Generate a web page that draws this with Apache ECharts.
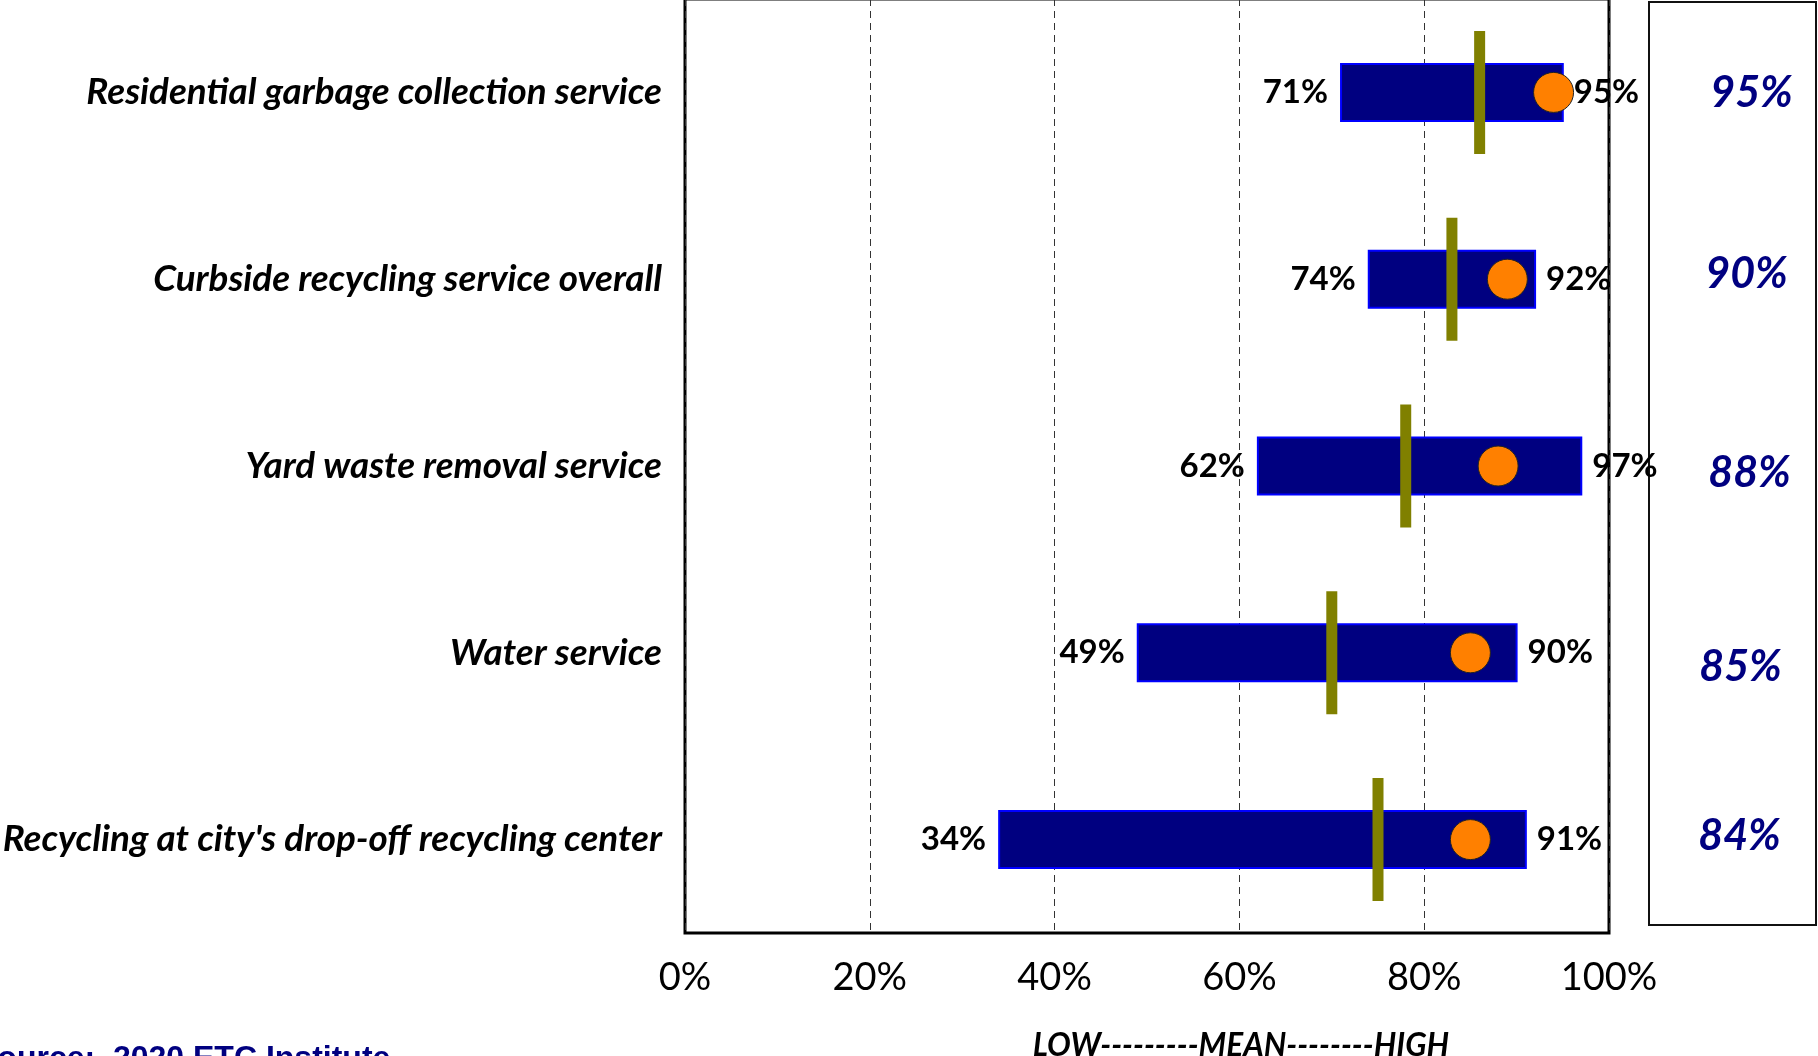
<!DOCTYPE html>
<html>
<head>
<meta charset="utf-8">
<script src="https://cdn.jsdelivr.net/npm/echarts@6/dist/echarts.min.js"></script>
<style>
html,body{margin:0;padding:0;background:#fff;}
#chart{width:1818px;height:1056px;}
</style>
</head>
<body>
<div id="chart"></div>
<script>
const categories = [
  "Residential garbage collection service",
  "Curbside recycling service overall",
  "Yard waste removal service",
  "Water service",
  "Recycling at city's drop-off recycling center"
];
const lowValues = [71, 74, 62, 49, 34];
const highValues = [95, 92, 97, 90, 91];
const meanValues = [86, 83, 78, 70, 75];
const cityValues = [94, 89, 88, 85, 85];
const boxValues = [95, 90, 88, 85, 84];
const axisTitle = "LOW---------MEAN--------HIGH";
const sourceText = "Source:  2020 ETC Institute";

// style-only nudges for the side box labels [dx, dy] in px
const boxNudge = [[6, -1], [1, -5], [4, 10], [-5, 19], [-6, 3]];

const FONT = 'Lato';
const chart = echarts.init(document.getElementById('chart'), null, {renderer: 'canvas'});

const idx = categories.map((c, i) => i);

const option = {
  backgroundColor: '#ffffff',
  animation: false,
  grid: [
    {left: 685, right: 209, top: -1, height: 934, show: true, borderColor: '#000', borderWidth: 3,
      backgroundColor: 'transparent', containLabel: false, outerBoundsMode: 'none'},
    {left: 1649, width: 167, top: 2, height: 923, show: true, borderColor: '#111', borderWidth: 2,
      backgroundColor: 'transparent', containLabel: false, outerBoundsMode: 'none'}
  ],
  xAxis: [
    {
      type: 'value', gridIndex: 0, min: 0, max: 100, interval: 20,
      axisLine: {show: false}, axisTick: {show: false},
      splitLine: {show: true, lineStyle: {type: [7, 5], color: '#333', width: 1}},
      axisLabel: {formatter: '{value}%', fontFamily: FONT, fontSize: 38, color: '#000', margin: 26}
    },
    {type: 'value', gridIndex: 1, min: 0, max: 1, show: false}
  ],
  yAxis: [
    {
      type: 'category', gridIndex: 0, data: categories, inverse: true,
      axisLine: {show: false}, axisTick: {show: false}, splitLine: {show: false},
      axisLabel: {fontFamily: FONT, fontSize: 36.8, fontWeight: 'bold', fontStyle: 'italic', color: '#000', margin: 23}
    },
    {type: 'category', gridIndex: 1, data: categories, inverse: true, show: false}
  ],
  series: [
    {
      type: 'custom', xAxisIndex: 0, yAxisIndex: 0,
      encode: {x: [0, 1], y: 2},
      data: idx.map(i => [lowValues[i], highValues[i], i]),
      renderItem: function (params, api) {
        const lo = api.coord([api.value(0), api.value(2)]);
        const hi = api.coord([api.value(1), api.value(2)]);
        const h = api.size([0, 1])[1] * 0.305;
        return {
          type: 'rect',
          shape: {x: lo[0], y: lo[1] - h / 2, width: hi[0] - lo[0], height: h},
          style: {fill: '#000080', stroke: '#0000FF', lineWidth: 2}
        };
      },
      z: 2
    },
    {
      type: 'scatter', xAxisIndex: 0, yAxisIndex: 0,
      symbol: 'rect', symbolSize: [11, 123],
      itemStyle: {color: '#808000', opacity: 1},
      data: idx.map(i => [meanValues[i], i]),
      z: 3
    },
    {
      type: 'scatter', xAxisIndex: 0, yAxisIndex: 0,
      symbol: 'circle', symbolSize: 40,
      itemStyle: {color: '#FF8000', borderColor: '#222', borderWidth: 1, opacity: 1},
      data: idx.map(i => [cityValues[i], i]),
      z: 4
    },
    {
      type: 'scatter', xAxisIndex: 0, yAxisIndex: 0,
      symbolSize: 0, itemStyle: {opacity: 1},
      data: idx.map(i => [lowValues[i], i]),
      label: {show: true, position: 'left', distance: 13, formatter: p => p.value[0] + '%',
        fontFamily: FONT, fontSize: 33, fontWeight: 'bold', color: '#000', opacity: 1},
      z: 5
    },
    {
      type: 'scatter', xAxisIndex: 0, yAxisIndex: 0,
      symbolSize: 0, itemStyle: {opacity: 1},
      data: idx.map(i => [highValues[i], i]),
      label: {show: true, position: 'right', distance: 11, formatter: p => p.value[0] + '%',
        fontFamily: FONT, fontSize: 33, fontWeight: 'bold', color: '#000', opacity: 1},
      z: 5
    },
    {
      type: 'scatter', xAxisIndex: 1, yAxisIndex: 1,
      symbolSize: 0, itemStyle: {opacity: 1},
      data: idx.map(i => ({
        value: [0.5, i],
        label: {offset: [13 + boxNudge[i][0], boxNudge[i][1]]}
      })),
      label: {show: true, position: 'inside', formatter: p => boxValues[p.dataIndex] + '%',
        fontFamily: FONT, fontSize: 43, fontWeight: 'bold', fontStyle: 'italic', color: '#000080', opacity: 1},
      z: 5
    }
  ],
  graphic: [
    {
      type: 'text', x: 1241, y: 1030,
      style: {text: axisTitle, fontFamily: FONT, fontSize: 31.5, fontWeight: 'bold', fontStyle: 'italic',
        fill: '#000', textAlign: 'center'}
    },
    {
      type: 'text', x: -24, y: 1043,
      style: {text: sourceText, fontFamily: 'Liberation Sans', fontSize: 32, fontWeight: 'bold',
        fill: '#000080', textAlign: 'left', textVerticalAlign: 'top'}
    }
  ]
};
chart.setOption(option);
</script>
</body>
</html>
